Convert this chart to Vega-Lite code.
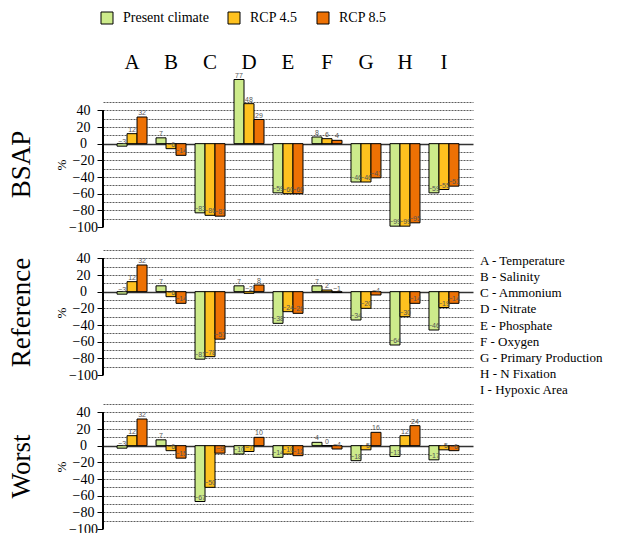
{
  "$schema": "https://vega.github.io/schema/vega-lite/v6.json",
  "padding": {"left": 7, "top": 11, "right": 0, "bottom": 0},
  "autosize": {"type": "pad"},
  "config": {"view": {"stroke": null}, "font": "Liberation Serif"},
  "datasets": {
    "bars": [
      {"scenario": "BSAP", "var": "A", "series": "Present climate", "value": -3},
      {"scenario": "BSAP", "var": "A", "series": "RCP 4.5", "value": 12},
      {"scenario": "BSAP", "var": "A", "series": "RCP 8.5", "value": 32},
      {"scenario": "BSAP", "var": "B", "series": "Present climate", "value": 7},
      {"scenario": "BSAP", "var": "B", "series": "RCP 4.5", "value": -6},
      {"scenario": "BSAP", "var": "B", "series": "RCP 8.5", "value": -14},
      {"scenario": "BSAP", "var": "C", "series": "Present climate", "value": -83},
      {"scenario": "BSAP", "var": "C", "series": "RCP 4.5", "value": -86},
      {"scenario": "BSAP", "var": "C", "series": "RCP 8.5", "value": -87},
      {"scenario": "BSAP", "var": "D", "series": "Present climate", "value": 77},
      {"scenario": "BSAP", "var": "D", "series": "RCP 4.5", "value": 48},
      {"scenario": "BSAP", "var": "D", "series": "RCP 8.5", "value": 29},
      {"scenario": "BSAP", "var": "E", "series": "Present climate", "value": -59},
      {"scenario": "BSAP", "var": "E", "series": "RCP 4.5", "value": -60},
      {"scenario": "BSAP", "var": "E", "series": "RCP 8.5", "value": -60},
      {"scenario": "BSAP", "var": "F", "series": "Present climate", "value": 8},
      {"scenario": "BSAP", "var": "F", "series": "RCP 4.5", "value": 6},
      {"scenario": "BSAP", "var": "F", "series": "RCP 8.5", "value": 4},
      {"scenario": "BSAP", "var": "G", "series": "Present climate", "value": -46},
      {"scenario": "BSAP", "var": "G", "series": "RCP 4.5", "value": -46},
      {"scenario": "BSAP", "var": "G", "series": "RCP 8.5", "value": -41},
      {"scenario": "BSAP", "var": "H", "series": "Present climate", "value": -99},
      {"scenario": "BSAP", "var": "H", "series": "RCP 4.5", "value": -99},
      {"scenario": "BSAP", "var": "H", "series": "RCP 8.5", "value": -95},
      {"scenario": "BSAP", "var": "I", "series": "Present climate", "value": -59},
      {"scenario": "BSAP", "var": "I", "series": "RCP 4.5", "value": -55},
      {"scenario": "BSAP", "var": "I", "series": "RCP 8.5", "value": -51},
      {"scenario": "Reference", "var": "A", "series": "Present climate", "value": -3},
      {"scenario": "Reference", "var": "A", "series": "RCP 4.5", "value": 12},
      {"scenario": "Reference", "var": "A", "series": "RCP 8.5", "value": 32},
      {"scenario": "Reference", "var": "B", "series": "Present climate", "value": 7},
      {"scenario": "Reference", "var": "B", "series": "RCP 4.5", "value": -6},
      {"scenario": "Reference", "var": "B", "series": "RCP 8.5", "value": -14},
      {"scenario": "Reference", "var": "C", "series": "Present climate", "value": -81},
      {"scenario": "Reference", "var": "C", "series": "RCP 4.5", "value": -78},
      {"scenario": "Reference", "var": "C", "series": "RCP 8.5", "value": -57},
      {"scenario": "Reference", "var": "D", "series": "Present climate", "value": 7},
      {"scenario": "Reference", "var": "D", "series": "RCP 4.5", "value": -2},
      {"scenario": "Reference", "var": "D", "series": "RCP 8.5", "value": 8},
      {"scenario": "Reference", "var": "E", "series": "Present climate", "value": -38},
      {"scenario": "Reference", "var": "E", "series": "RCP 4.5", "value": -24},
      {"scenario": "Reference", "var": "E", "series": "RCP 8.5", "value": -26},
      {"scenario": "Reference", "var": "F", "series": "Present climate", "value": 7},
      {"scenario": "Reference", "var": "F", "series": "RCP 4.5", "value": 2},
      {"scenario": "Reference", "var": "F", "series": "RCP 8.5", "value": -1},
      {"scenario": "Reference", "var": "G", "series": "Present climate", "value": -34},
      {"scenario": "Reference", "var": "G", "series": "RCP 4.5", "value": -20},
      {"scenario": "Reference", "var": "G", "series": "RCP 8.5", "value": -4},
      {"scenario": "Reference", "var": "H", "series": "Present climate", "value": -64},
      {"scenario": "Reference", "var": "H", "series": "RCP 4.5", "value": -30},
      {"scenario": "Reference", "var": "H", "series": "RCP 8.5", "value": -14},
      {"scenario": "Reference", "var": "I", "series": "Present climate", "value": -46},
      {"scenario": "Reference", "var": "I", "series": "RCP 4.5", "value": -19},
      {"scenario": "Reference", "var": "I", "series": "RCP 8.5", "value": -14},
      {"scenario": "Worst", "var": "A", "series": "Present climate", "value": -3},
      {"scenario": "Worst", "var": "A", "series": "RCP 4.5", "value": 12},
      {"scenario": "Worst", "var": "A", "series": "RCP 8.5", "value": 32},
      {"scenario": "Worst", "var": "B", "series": "Present climate", "value": 7},
      {"scenario": "Worst", "var": "B", "series": "RCP 4.5", "value": -6},
      {"scenario": "Worst", "var": "B", "series": "RCP 8.5", "value": -15},
      {"scenario": "Worst", "var": "C", "series": "Present climate", "value": -67},
      {"scenario": "Worst", "var": "C", "series": "RCP 4.5", "value": -50},
      {"scenario": "Worst", "var": "C", "series": "RCP 8.5", "value": -9},
      {"scenario": "Worst", "var": "D", "series": "Present climate", "value": -10},
      {"scenario": "Worst", "var": "D", "series": "RCP 4.5", "value": -7},
      {"scenario": "Worst", "var": "D", "series": "RCP 8.5", "value": 10},
      {"scenario": "Worst", "var": "E", "series": "Present climate", "value": -14},
      {"scenario": "Worst", "var": "E", "series": "RCP 4.5", "value": -10},
      {"scenario": "Worst", "var": "E", "series": "RCP 8.5", "value": -12},
      {"scenario": "Worst", "var": "F", "series": "Present climate", "value": 4},
      {"scenario": "Worst", "var": "F", "series": "RCP 4.5", "value": 0},
      {"scenario": "Worst", "var": "F", "series": "RCP 8.5", "value": -4},
      {"scenario": "Worst", "var": "G", "series": "Present climate", "value": -18},
      {"scenario": "Worst", "var": "G", "series": "RCP 4.5", "value": -5},
      {"scenario": "Worst", "var": "G", "series": "RCP 8.5", "value": 16},
      {"scenario": "Worst", "var": "H", "series": "Present climate", "value": -13},
      {"scenario": "Worst", "var": "H", "series": "RCP 4.5", "value": 12},
      {"scenario": "Worst", "var": "H", "series": "RCP 8.5", "value": 24},
      {"scenario": "Worst", "var": "I", "series": "Present climate", "value": -17},
      {"scenario": "Worst", "var": "I", "series": "RCP 4.5", "value": -5},
      {"scenario": "Worst", "var": "I", "series": "RCP 8.5", "value": -6}
    ],
    "desc": [
      {"code": "A", "label": "A - Temperature"},
      {"code": "B", "label": "B - Salinity"},
      {"code": "C", "label": "C - Ammonium"},
      {"code": "D", "label": "D - Nitrate"},
      {"code": "E", "label": "E - Phosphate"},
      {"code": "F", "label": "F - Oxygen"},
      {"code": "G", "label": "G - Primary Production"},
      {"code": "H", "label": "H - N Fixation"},
      {"code": "I", "label": "I - Hypoxic Area"}
    ]
  },
  "resolve": {"scale": {"color": "shared"}, "legend": {"color": "shared"}},
  "spacing": 0,
  "vconcat": [
    {
      "spacing": 9,
      "resolve": {"scale": {"color": "shared"}, "legend": {"color": "shared"}},
      "vconcat": [
        {
          "width": 370, "height": 125,
          "title": {"text": "BSAP", "orient": "left", "font": "Liberation Serif", "fontSize": 27, "fontWeight": "normal", "color": "black", "offset": 20},
          "data": {"name": "bars"},
          "transform": [{"filter": "datum.scenario == 'BSAP'"}],
          "layer": [
            {
              "mark": {"type": "bar", "stroke": "black", "strokeWidth": 1},
              "encoding": {
                "x": {"field": "var", "type": "nominal", "scale": {"paddingInner": 0.2308, "paddingOuter": 0.36},
                      "axis": {"orient": "top", "ticks": false, "domain": false, "grid": false, "labelAngle": 0, "title": null,
                               "labelFont": "Liberation Serif", "labelFontSize": 21, "labelColor": "black", "labelPadding": 30}},
                "xOffset": {"field": "series", "type": "nominal", "scale": {"paddingInner": 0, "paddingOuter": 0}},
                "y": {"field": "value", "type": "quantitative", "scale": {"domain": [-100, 50], "nice": false, "zero": true},
                      "axis": {"values": [-100, -90, -80, -70, -60, -50, -40, -30, -20, -10, 0, 10, 20, 30, 40, 50], "tickCount": 16,
                               "labelExpr": "datum.value % 20 == 0 && datum.value <= 40 ? datum.label : ''",
                               "labelOverlap": false, "labelBound": false, "labelFlush": false, "domain": false,
                               "tickOpacity": {"condition": {"test": "datum.value % 20 == 0 && datum.value <= 40", "value": 1}, "value": 0},
                               "gridOpacity": {"condition": {"test": "datum.value == -100", "value": 0}, "value": 1},
                               "gridDash": {"condition": {"test": "datum.value == 0", "value": []}, "value": [2, 1]},
                               "gridWidth": {"condition": {"test": "datum.value == 0", "value": 1.5}, "value": 0.8},
                               "gridColor": "#333", "grid": true,
                               "tickColor": "black", "tickSize": 6, "labelPadding": 14, "labelAlign": "center",
                               "labelFont": "Liberation Serif", "labelFontSize": 14, "labelColor": "black",
                               "title": "%", "titleFont": "Liberation Serif", "titleFontSize": 13, "titleFontWeight": "normal", "titleColor": "black", "titlePadding": 0}},
                "color": {"field": "series", "type": "nominal",
                          "scale": {"domain": ["Present climate", "RCP 4.5", "RCP 8.5"], "range": ["#cdeb8b", "#fec11f", "#ed7104"]},
                          "legend": {"orient": "none", "legendX": -3, "legendY": -91, "direction": "horizontal", "title": null,
                                     "symbolType": "square", "symbolSize": 144, "symbolStrokeColor": "black", "symbolStrokeWidth": 1,
                                     "labelFont": "Liberation Serif", "labelFontSize": 14, "labelColor": "black", "labelOffset": 9, "columnPadding": 17}}
              }
            },
            {
              "mark": {"type": "rule", "color": "black", "strokeWidth": 1},
              "encoding": {"x": {"value": 0}, "y": {"datum": -100}, "y2": {"datum": 40}}
            },
            {
              "mark": {"type": "text", "baseline": "bottom", "dy": -1, "fontSize": 7, "font": "Liberation Sans", "color": "#555"},
              "encoding": {
                "x": {"field": "var", "type": "nominal"},
                "xOffset": {"field": "series", "type": "nominal"},
                "y": {"field": "value", "type": "quantitative"},
                "text": {"field": "value", "type": "quantitative"}
              }
            }
          ]
        },
        {
          "spacing": 7,
          "hconcat": [
            {
              "width": 370, "height": 125,
              "title": {"text": "Reference", "orient": "left", "font": "Liberation Serif", "fontSize": 27, "fontWeight": "normal", "color": "black", "offset": 20},
              "data": {"name": "bars"},
              "transform": [{"filter": "datum.scenario == 'Reference'"}],
              "layer": [
                {
                  "mark": {"type": "bar", "stroke": "black", "strokeWidth": 1},
                  "encoding": {
                    "x": {"field": "var", "type": "nominal", "scale": {"paddingInner": 0.2308, "paddingOuter": 0.36}, "axis": null},
                    "xOffset": {"field": "series", "type": "nominal", "scale": {"paddingInner": 0, "paddingOuter": 0}},
                    "y": {"field": "value", "type": "quantitative", "scale": {"domain": [-100, 50], "nice": false, "zero": true},
                          "axis": {"values": [-100, -90, -80, -70, -60, -50, -40, -30, -20, -10, 0, 10, 20, 30, 40, 50], "tickCount": 16,
                                   "labelExpr": "datum.value % 20 == 0 && datum.value <= 40 ? datum.label : ''",
                                   "labelOverlap": false, "labelBound": false, "labelFlush": false, "domain": false,
                                   "tickOpacity": {"condition": {"test": "datum.value % 20 == 0 && datum.value <= 40", "value": 1}, "value": 0},
                                   "gridOpacity": {"condition": {"test": "datum.value == -100", "value": 0}, "value": 1},
                                   "gridDash": {"condition": {"test": "datum.value == 0", "value": []}, "value": [2, 1]},
                                   "gridWidth": {"condition": {"test": "datum.value == 0", "value": 1.5}, "value": 0.8},
                                   "gridColor": "#333", "grid": true,
                                   "tickColor": "black", "tickSize": 6, "labelPadding": 14, "labelAlign": "center",
                                   "labelFont": "Liberation Serif", "labelFontSize": 14, "labelColor": "black",
                                   "title": "%", "titleFont": "Liberation Serif", "titleFontSize": 13, "titleFontWeight": "normal", "titleColor": "black", "titlePadding": 0}},
                    "color": {"field": "series", "type": "nominal",
                              "scale": {"domain": ["Present climate", "RCP 4.5", "RCP 8.5"], "range": ["#cdeb8b", "#fec11f", "#ed7104"]},
                              "legend": {"orient": "none", "legendX": -3, "legendY": -91, "direction": "horizontal", "title": null,
                                         "symbolType": "square", "symbolSize": 144, "symbolStrokeColor": "black", "symbolStrokeWidth": 1,
                                         "labelFont": "Liberation Serif", "labelFontSize": 14, "labelColor": "black", "labelOffset": 9, "columnPadding": 17}}
                  }
                },
                {
                  "mark": {"type": "rule", "color": "black", "strokeWidth": 1},
                  "encoding": {"x": {"value": 0}, "y": {"datum": -100}, "y2": {"datum": 40}}
                },
                {
                  "mark": {"type": "text", "baseline": "bottom", "dy": -1, "fontSize": 7, "font": "Liberation Sans", "color": "#555"},
                  "encoding": {
                    "x": {"field": "var", "type": "nominal"},
                    "xOffset": {"field": "series", "type": "nominal"},
                    "y": {"field": "value", "type": "quantitative"},
                    "text": {"field": "value", "type": "quantitative"}
                  }
                }
              ]
            },
            {
              "width": 160, "height": 129,
              "data": {"name": "desc"},
              "mark": {"type": "text", "align": "left", "baseline": "middle", "font": "Liberation Serif", "fontSize": 13, "color": "black", "dy": 11},
              "encoding": {
                "x": {"value": 0},
                "y": {"field": "code", "type": "nominal", "sort": null, "scale": {"type": "point", "padding": 0}, "axis": null},
                "text": {"field": "label", "type": "nominal"}
              }
            }
          ]
        }
      ]
    },
    {
      "width": 370, "height": 125,
      "title": {"text": "Worst", "orient": "left", "font": "Liberation Serif", "fontSize": 27, "fontWeight": "normal", "color": "black", "offset": 20},
      "data": {"name": "bars"},
      "transform": [{"filter": "datum.scenario == 'Worst'"}],
      "layer": [
        {
          "mark": {"type": "bar", "stroke": "black", "strokeWidth": 1},
          "encoding": {
            "x": {"field": "var", "type": "nominal", "scale": {"paddingInner": 0.2308, "paddingOuter": 0.36}, "axis": null},
            "xOffset": {"field": "series", "type": "nominal", "scale": {"paddingInner": 0, "paddingOuter": 0}},
            "y": {"field": "value", "type": "quantitative", "scale": {"domain": [-100, 50], "nice": false, "zero": true},
                  "axis": {"values": [-100, -90, -80, -70, -60, -50, -40, -30, -20, -10, 0, 10, 20, 30, 40, 50], "tickCount": 16,
                           "labelExpr": "datum.value % 20 == 0 && datum.value <= 40 ? datum.label : ''",
                           "labelOverlap": false, "labelBound": false, "labelFlush": false, "domain": false,
                           "tickOpacity": {"condition": {"test": "datum.value % 20 == 0 && datum.value <= 40", "value": 1}, "value": 0},
                           "gridOpacity": {"condition": {"test": "datum.value == -100", "value": 0}, "value": 1},
                           "gridDash": {"condition": {"test": "datum.value == 0", "value": []}, "value": [2, 1]},
                           "gridWidth": {"condition": {"test": "datum.value == 0", "value": 1.5}, "value": 0.8},
                           "gridColor": "#333", "grid": true,
                           "tickColor": "black", "tickSize": 6, "labelPadding": 14, "labelAlign": "center",
                           "labelFont": "Liberation Serif", "labelFontSize": 14, "labelColor": "black",
                           "title": "%", "titleFont": "Liberation Serif", "titleFontSize": 13, "titleFontWeight": "normal", "titleColor": "black", "titlePadding": 0}},
            "color": {"field": "series", "type": "nominal",
                      "scale": {"domain": ["Present climate", "RCP 4.5", "RCP 8.5"], "range": ["#cdeb8b", "#fec11f", "#ed7104"]},
                      "legend": {"orient": "none", "legendX": -3, "legendY": -91, "direction": "horizontal", "title": null,
                                 "symbolType": "square", "symbolSize": 144, "symbolStrokeColor": "black", "symbolStrokeWidth": 1,
                                 "labelFont": "Liberation Serif", "labelFontSize": 14, "labelColor": "black", "labelOffset": 9, "columnPadding": 17}}
          }
        },
        {
          "mark": {"type": "rule", "color": "black", "strokeWidth": 1},
          "encoding": {"x": {"value": 0}, "y": {"datum": -100}, "y2": {"datum": 40}}
        },
        {
          "mark": {"type": "text", "baseline": "bottom", "dy": -1, "fontSize": 7, "font": "Liberation Sans", "color": "#555"},
          "encoding": {
            "x": {"field": "var", "type": "nominal"},
            "xOffset": {"field": "series", "type": "nominal"},
            "y": {"field": "value", "type": "quantitative"},
            "text": {"field": "value", "type": "quantitative"}
          }
        }
      ]
    }
  ]
}
